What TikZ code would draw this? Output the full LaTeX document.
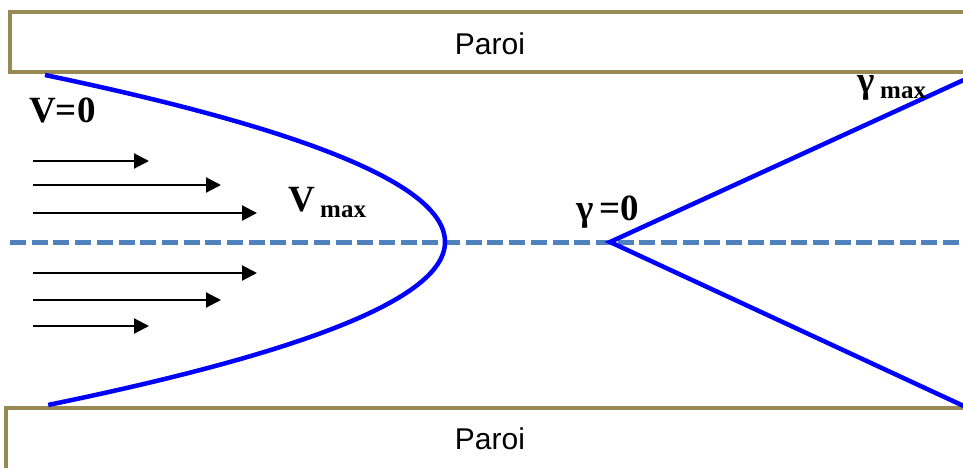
\documentclass[tikz,border=0pt]{standalone}
\usepackage{fontspec}
\setmainfont{Liberation Serif}
\newfontfamily\arialfont{Liberation Sans}
\usetikzlibrary{arrows.meta}
\definecolor{wallc}{HTML}{988A55}
\definecolor{axisc}{HTML}{4F81BD}
\definecolor{profc}{HTML}{0000FF}
\begin{document}
\begin{tikzpicture}[x=1pt,y=-1pt,
  wall/.style={draw=wallc,line width=4.5pt,fill=white},
  walltext/.style={font=\arialfont\fontsize{30}{34}\selectfont},
  prof/.style={draw=profc,line width=4.5pt},
  flow/.style={draw=black,line width=2.2pt,-{Triangle[length=15pt,width=15pt]}},
  lbl/.style={font=\bfseries\fontsize{37}{40}\selectfont,inner sep=0pt},
  sub/.style={font=\bfseries\fontsize{25}{28}\selectfont,inner sep=0pt}]
\useasboundingbox (0,0) rectangle (963,468);
\clip (0,0) rectangle (963,468);
% walls
\draw[wall] (10,12) rectangle (975,72);
\node[walltext] (paroiT) at (490,44) {Paroi};
\draw[wall] (6,408) rectangle (975,480);
\node[walltext] (paroiB) at (490,439) {Paroi};
% axis
\draw[axisc,line width=5pt,dash pattern=on 16pt off 5.7pt] (10,242) -- (975,242);
% velocity profile
\draw[prof] plot[domain=-1.67:0,samples=60,smooth] ({445-143.43*\x*\x},{242+100*\x})
  -- plot[domain=0:1.63,samples=60,smooth] ({445-149.43*\x*\x},{242+100*\x});
% shear profile
\coordinate (g0) at (610,242);
\coordinate (gt) at (968,78);
\coordinate (gb) at (968,408);
\draw[prof,line join=miter] (gt) -- (g0) -- (gb);
% flow arrows
\foreach \y/\l [count=\i] in {161/149,185/221,213/257,273/257,300/221,326/149}{
  \coordinate (as\i) at (33,\y);
  \coordinate (ae\i) at (\l,\y);
  \draw[flow] (as\i) -- (ae\i);
}
% labels
\node[lbl,anchor=base west] (v0) at (29,123) {V=0};
\node[lbl,anchor=base west] (vmax) at (288,211) {V};
\node[sub,anchor=base west] (vmaxs) at (320,217) {max};
\node[lbl,anchor=base west] (g0l) at (576,220) {γ\,=0};
\node[lbl,anchor=base west] (gmax) at (857,93) {γ};
\node[sub,anchor=base west] (gmaxs) at (880,99) {max};
\end{tikzpicture}
\end{document}
